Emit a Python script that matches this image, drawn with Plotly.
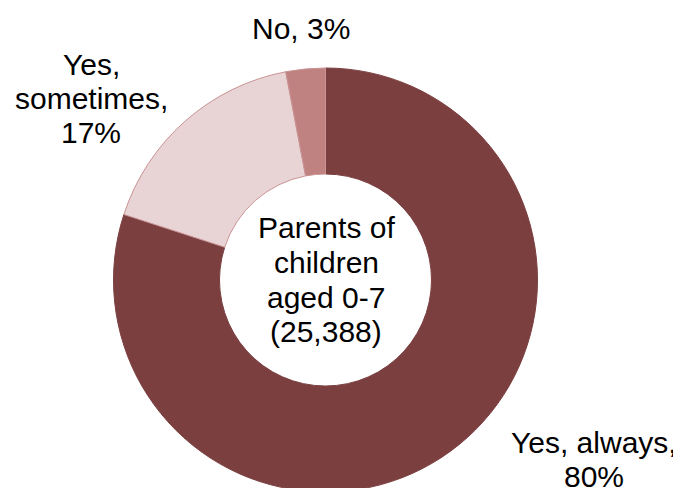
import plotly.graph_objects as go

labels = ["Yes, always", "Yes, sometimes", "No"]
values = [80, 17, 3]
colors = ["#7B3F40", "#E9D4D5", "#BF8281"]
line_colors = ["#7B3F40", "#C99293", "#C99293"]
center_lines = ["Parents of", "children", "aged 0-7", "(25,388)"]

W, H = 681, 488
OFF = 8  # page body margin offset
cx, cy, R = 325.5 - OFF, 280 - OFF, 212

fig = go.Figure()
fig.add_trace(go.Pie(
    labels=labels, values=values, sort=False, direction="clockwise", rotation=0,
    hole=0.5, textinfo="none", hoverinfo="label+percent",
    marker=dict(colors=colors, line=dict(color=line_colors, width=1)),
    domain=dict(x=[(cx - R) / W, (cx + R) / W],
                y=[(H - cy - R) / H, (H - cy + R) / H]),
    showlegend=False,
))

font = dict(family="Arial, Liberation Sans, sans-serif", size=30, color="#000000")
PITCH = 34.5


def add_lines(lines, x, y_first):
    for i, t in enumerate(lines):
        fig.add_annotation(x=(x - OFF) / W, y=1 - (y_first + i * PITCH - OFF) / H,
                           xref="paper", yref="paper", text=t, showarrow=False,
                           font=font, xanchor="center", yanchor="middle")


label_lines = {
    "Yes, always": ["Yes, always,", "%d%%" % values[0]],
    "Yes, sometimes": ["Yes,", "sometimes,", "%d%%" % values[1]],
    "No": ["No, %d%%" % values[2]],
}
label_anchor = {"Yes, always": (594, 442), "Yes, sometimes": (91, 64), "No": (301, 28.5)}
for lab in labels:
    x, y = label_anchor[lab]
    add_lines(label_lines[lab], x, y)

add_lines(center_lines, 326, 228)

fig.update_layout(width=W, height=H, margin=dict(l=0, r=0, t=0, b=0),
                  paper_bgcolor="white", plot_bgcolor="white")
fig.write_html("out.html")
